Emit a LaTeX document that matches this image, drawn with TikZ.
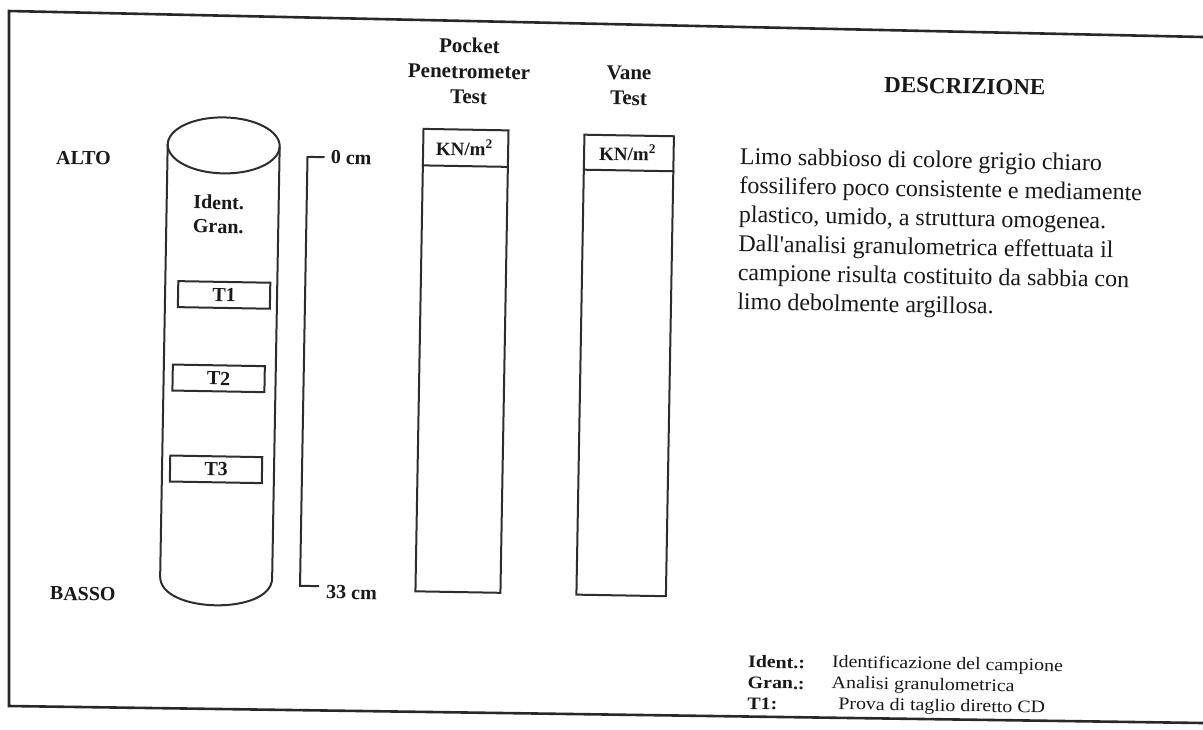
\documentclass[tikz,border=0pt]{standalone}
\usepackage{fontspec}
\setmainfont{Liberation Serif}
\newfontfamily\legfont[FakeStretch=1.13]{Liberation Serif}
\definecolor{linec}{RGB}{45,45,45}
\definecolor{txtc}{RGB}{25,25,25}
\definecolor{framec}{RGB}{40,40,40}
\begin{document}
\begin{tikzpicture}[x=0.5pt,y=-0.5pt,
  ln/.style={draw=linec, line width=1pt},
  lbl/.style={font=\fontsize{10}{12}\selectfont\bfseries, text=txtc, inner sep=0pt},
  ttl/.style={font=\fontsize{10.5}{12.75}\selectfont\bfseries, text=txtc, inner sep=0pt, align=center},
  unit/.style={font=\fontsize{9.5}{11}\selectfont\bfseries, text=txtc, inner sep=0pt},
  samplebox/.style={draw=linec, line width=1pt, minimum width=46pt, minimum height=13pt, inner sep=0pt, font=\fontsize{10}{12}\selectfont\bfseries, text=txtc},
  colbox/.style={draw=linec, line width=1pt, inner sep=0pt, anchor=north west},
  legk/.style={font=\legfont\fontsize{8.8}{10}\selectfont\bfseries, text=txtc, inner sep=0pt, anchor=west},
  legv/.style={font=\legfont\fontsize{8.8}{10}\selectfont, text=txtc, inner sep=0pt, anchor=west}]
\useasboundingbox (0,0) rectangle (1203,729);
\fill[white] (0,0) rectangle (1203,729);
% outer frame (scanned, slightly skewed)
\coordinate (ftr) at (1203,37);
\coordinate (ftl) at (9,11);
\coordinate (fbl) at (9,706);
\coordinate (fbr) at (1203,723);
\draw[framec, line width=1.3pt] (ftr) -- (ftl) -- (fbl) -- (fbr);
\begin{scope}[rotate around={-1:(600,360)}, transform shape]
% side labels
\node[lbl] (alto) at (80,167) {ALTO};
\node[lbl] (basso) at (87,603) {BASSO};
% cylinder
\coordinate (ctop) at (220,152);
\coordinate (cl1) at (164,152);
\coordinate (cl2) at (164,584);
\coordinate (cr1) at (276,152);
\coordinate (cr2) at (276,584);
\draw[ln] (ctop) ellipse [x radius=56, y radius=28];
\draw[ln] (cl1) -- (cl2) .. controls (164,621.3) and (276,621.3) .. (cr2) -- (cr1);
\node[lbl, align=center] (idgr) at (216,221) {Ident.\\Gran.};
\node[samplebox] (t1) at (223,301.5) {T1};
\node[samplebox] (t2) at (219,385) {T2};
\node[samplebox] (t3) at (218,476) {T3};
% depth scale
\coordinate (st) at (321,162);
\coordinate (s0) at (304,162);
\coordinate (s33) at (304,591);
\coordinate (sb) at (323,591);
\draw[ln] (st) -- (s0) -- (s33) -- (sb);
\node[lbl, anchor=west] (l0) at (327,162) {0 cm};
\node[lbl, anchor=west] (l33) at (330,597) {33 cm};
% pocket penetrometer column
\node[ttl] (ppt) at (464,73.5) {Pocket\\Penetrometer\\Test};
\node[colbox, minimum width=42.5pt, minimum height=231.25pt] (pp) at (418.5,131) {};
\draw[ln] (pp.west |- 0,168.5) -- (pp.east |- 0,168.5);
\node[unit] (ppu) at (461,150) {KN/m\textsuperscript{2}};
% vane column
\node[ttl] (vtt) at (624,85) {Vane\\Test};
\node[colbox, minimum width=44.75pt, minimum height=230pt] (vt) at (579.5,134) {};
\draw[ln] (vt.west |- 0,170) -- (vt.east |- 0,170);
\node[unit] (vtu) at (624.25,152) {KN/m\textsuperscript{2}};
% description
\node[font=\fontsize{11.5}{13}\selectfont\bfseries, text=txtc, inner sep=0pt] (dtit) at (960,80) {DESCRIZIONE};
\node[font=\fontsize{12}{14.5}\selectfont, text=txtc, inner sep=0pt, anchor=north west, align=left] (desc) at (736,145)
 {Limo sabbioso di colore grigio chiaro\\
  fossilifero poco consistente e mediamente\\
  plastico, umido, a struttura omogenea.\\
  Dall\textquotesingle analisi granulometrica effettuata il\\
  campione risulta costituito da sabbia con\\
  limo debolmente argillosa.};
% legend
\node[legk] (k1) at (753,659) {Ident.:};
\node[legk] (k2) at (753,680) {Gran.:};
\node[legk] (k3) at (753,701) {T1:};
\node[legv] (v1) at (837,659) {Identificazione del campione};
\node[legv] (v2) at (837,680) {Analisi granulometrica};
\node[legv] (v3) at (844,701) {Prova di taglio diretto CD};
\end{scope}
\end{tikzpicture}
\end{document}
